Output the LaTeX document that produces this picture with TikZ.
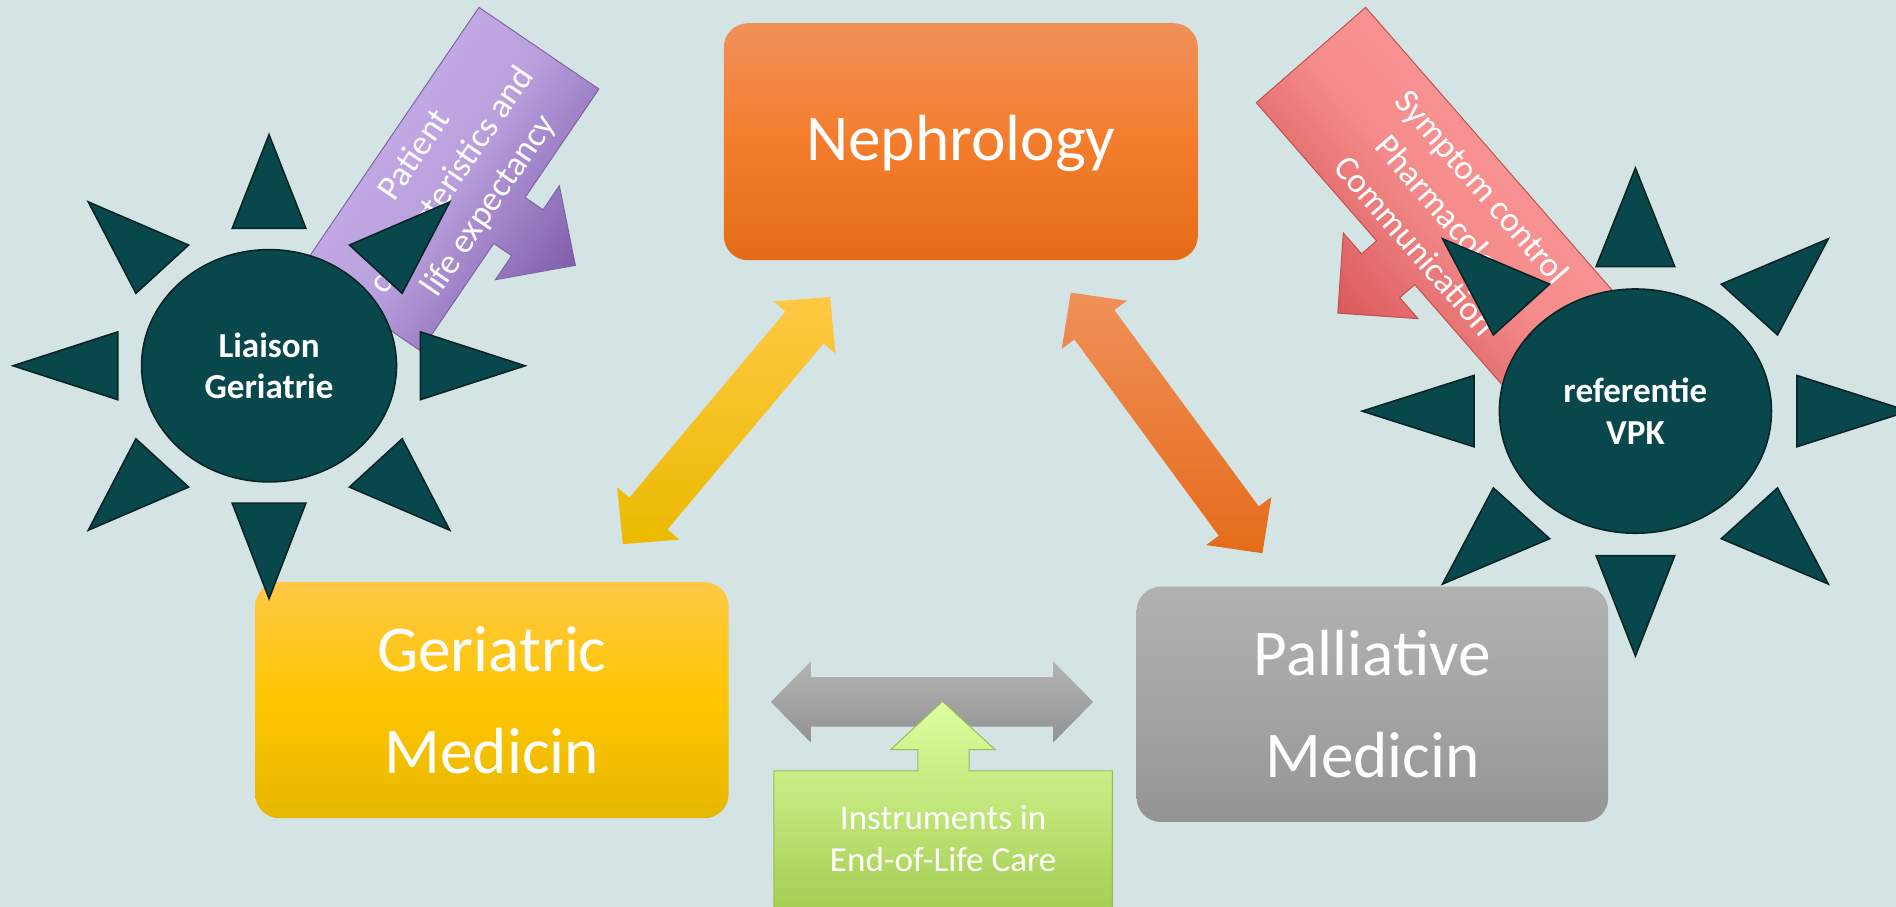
\documentclass[tikz,border=0pt]{standalone}
\usepackage{fontspec}
\setmainfont{Carlito}
\usetikzlibrary{calc}
\definecolor{bgc}{RGB}{212,228,228}
\definecolor{nephTop}{RGB}{240,145,90}
\definecolor{nephMid}{RGB}{244,125,44}
\definecolor{nephBot}{RGB}{228,108,24}
\definecolor{gerTop}{RGB}{255,200,70}
\definecolor{gerMid}{RGB}{255,198,0}
\definecolor{gerBot}{RGB}{230,183,0}
\definecolor{palTop}{RGB}{177,177,177}
\definecolor{palMid}{RGB}{165,165,165}
\definecolor{palBot}{RGB}{148,148,148}
\definecolor{yelTop}{RGB}{255,200,67}
\definecolor{yelBot}{RGB}{235,186,0}
\definecolor{oraTop}{RGB}{240,144,90}
\definecolor{oraBot}{RGB}{229,107,26}
\definecolor{gryTop}{RGB}{180,180,180}
\definecolor{gryBot}{RGB}{146,146,146}
\definecolor{grnTop}{RGB}{221,255,160}
\definecolor{grnBot}{RGB}{160,200,76}
\definecolor{grnLine}{RGB}{155,187,89}
\definecolor{purLight}{RGB}{201,177,235}
\definecolor{purMid}{RGB}{186,161,222}
\definecolor{purDark}{RGB}{125,91,170}
\definecolor{purLine}{RGB}{128,100,162}
\definecolor{redLight}{RGB}{255,156,156}
\definecolor{redMid}{RGB}{245,140,140}
\definecolor{redDark}{RGB}{208,72,72}
\definecolor{redLine}{RGB}{192,80,77}
\definecolor{sunFill}{RGB}{8,71,76}
\definecolor{sunLine}{RGB}{8,36,36}
\newcommand\fBig{\fontsize{54}{84}\selectfont}
\newcommand\fCall{\fontsize{29}{37}\selectfont}
\newcommand\fGreen{\fontsize{29}{34}\selectfont}
\newcommand\fSun{\fontsize{29}{34}\selectfont\bfseries}
\newcommand\arrL{33}
\newcommand\arrW{33.5}
\newcommand\arrS{20.5}
\newcommand\blockdbl[3]{%
 \path[#1] let \p1=(#2), \p2=(#3), \n1={veclen(\x2-\x1,\y2-\y1)},
   \n2={(\x2-\x1)/\n1}, \n3={(\y2-\y1)/\n1} in
 (\p1) -- ++({\arrL*\n2-\arrW*\n3},{\arrL*\n3+\arrW*\n2})
 -- ++({(\arrW-\arrS)*\n3},{-(\arrW-\arrS)*\n2})
 -- ++({(\n1-2*\arrL)*\n2},{(\n1-2*\arrL)*\n3})
 -- ++({-(\arrW-\arrS)*\n3},{(\arrW-\arrS)*\n2})
 -- (\p2)
 -- ++({-\arrL*\n2+\arrW*\n3},{-\arrL*\n3-\arrW*\n2})
 -- ++({-(\arrW-\arrS)*\n3},{(\arrW-\arrS)*\n2})
 -- ++({-(\n1-2*\arrL)*\n2},{-(\n1-2*\arrL)*\n3})
 -- ++({(\arrW-\arrS)*\n3},{-(\arrW-\arrS)*\n2})
 -- cycle;}
\tikzset{
 box/.style={rectangle, rounded corners=20pt, inner sep=0pt, text=white, align=center, font=\fBig},
 sunray/.style={fill=sunFill, draw=sunLine, line width=1.3pt, line join=miter},
 suntext/.style={text=white, align=center, font=\fSun, inner sep=0pt},
 calltext/.style={text=white, align=center, font=\fCall, inner sep=0pt},
 pics/sun/.style={code={
  \path[sunray] (0,0) ellipse [x radius=112.5, y radius=101];
  \path[sunray] (-32.5,119.5) -- (0,201) -- (32.5,119.5) -- cycle;
  \path[sunray] (-32.5,-119.5) -- (0,-202.5) -- (32.5,-119.5) -- cycle;
  \path[sunray] (-133.5,29.5) -- (-226,0) -- (-133.5,-29.5) -- cycle;
  \path[sunray] (133.5,29.5) -- (226,0) -- (133.5,-29.5) -- cycle;
  \path[sunray] (-159.5,142.5) -- (-71,105) -- (-117.5,63) -- cycle;
  \path[sunray] (159.5,142.5) -- (71,105) -- (117.5,63) -- cycle;
  \path[sunray] (-159.5,-143) -- (-71,-105.5) -- (-117.5,-63.5) -- cycle;
  \path[sunray] (159.5,-143) -- (71,-105.5) -- (117.5,-63.5) -- cycle;
 }}
}
\begin{document}
\begin{tikzpicture}[x=1pt,y=1pt]
\useasboundingbox (0,0) rectangle (1568,750);
\fill[bgc] (0,0) rectangle (1568,750);
\clip (0,0) rectangle (1568,750);

% main boxes
\node[box, minimum width=392pt, minimum height=196pt, text height=31.5pt, text depth=0pt,
  top color=nephTop, bottom color=nephBot, middle color=nephMid] (neph) at (794.6,632.8) {Nephrology};
\node[box, minimum width=391.5pt, minimum height=195.3pt,
  top color=gerTop, bottom color=gerBot, middle color=gerMid] (ger) at (406.8,171) {Geriatric\\Medicin};
\node[box, minimum width=390pt, minimum height=194.7pt,
  top color=palTop, bottom color=palBot, middle color=palMid] (pal) at (1135,167.6) {Palliative\\Medicin};

% double block arrows
\coordinate (ya) at (515,300);
\coordinate (yb) at (686.5,504.4);
\coordinate (oa) at (885.5,508);
\coordinate (ob) at (1044,292.5);
\coordinate (ga) at (637.5,169.5);
\coordinate (gb) at (904,169.5);
\blockdbl{top color=yelTop, bottom color=yelBot}{ya}{yb}
\blockdbl{top color=oraTop, bottom color=oraBot}{oa}{ob}
\blockdbl{top color=gryTop, bottom color=gryBot}{ga}{gb}

% green up-arrow callout
\path[draw=grnLine, line width=0.8pt, top color=grnTop, bottom color=grnBot]
  (640,-20) -- (640,112.4) -- (759,112.4) -- (759,130) -- (736.5,130) -- (779.5,170)
  -- (823,130) -- (801.5,130) -- (801.5,112.4) -- (920,112.4) -- (920,-20) -- cycle;
\node[text=white, align=center, font=\fGreen, inner sep=0pt] (instr) at (780,56.5) {Instruments in\\End-of-Life Care};

% purple callout
\begin{scope}[shift={(396.1,743.9)}, rotate=235.75]
\path[draw=purLine, line width=0.8pt, top color=purLight, bottom color=purDark, middle color=purMid, shading angle=55.75]
  (0,0) -- (0,120) -- (108.5,120) -- (108.5,138) -- (84.5,138) -- (131.5,186) -- (178.5,138)
  -- (154.5,138) -- (154.5,120) -- (262,120) -- (262,0) -- cycle;
\node[calltext, rotate=55.75] (pat) at (131,62.5) {Patient\\characteristics and\\life expectancy};
\end{scope}

% red callout
\begin{scope}[shift={(1129.4,743.9)}, rotate=-48.93, yscale=-1]
\path[draw=redLine, line width=0.8pt, top color=redLight, bottom color=redDark, middle color=redMid, shading angle=-48.93]
  (0,0) -- (351,0) -- (351,120) -- (199.5,120) -- (199.5,136.5) -- (222.5,136.5) -- (175.5,183.5)
  -- (128.5,136.5) -- (151.5,136.5) -- (151.5,120) -- (0,120) -- cycle;
\node[calltext, rotate=-48.93] (sym) at (175.5,61.5) {Symptom control\\Pharmacology\\Communication};
\end{scope}

% suns
\pic[xscale=0.937, yscale=0.951] at (222.5,447.5) {sun};
\node[suntext] (liaison) at (222.5,447.5) {Liaison\\Geriatrie};
\pic at (1352.5,410) {sun};
\node[suntext] (vpk) at (1352.5,410) {referentie\\VPK};
\end{tikzpicture}
\end{document}
